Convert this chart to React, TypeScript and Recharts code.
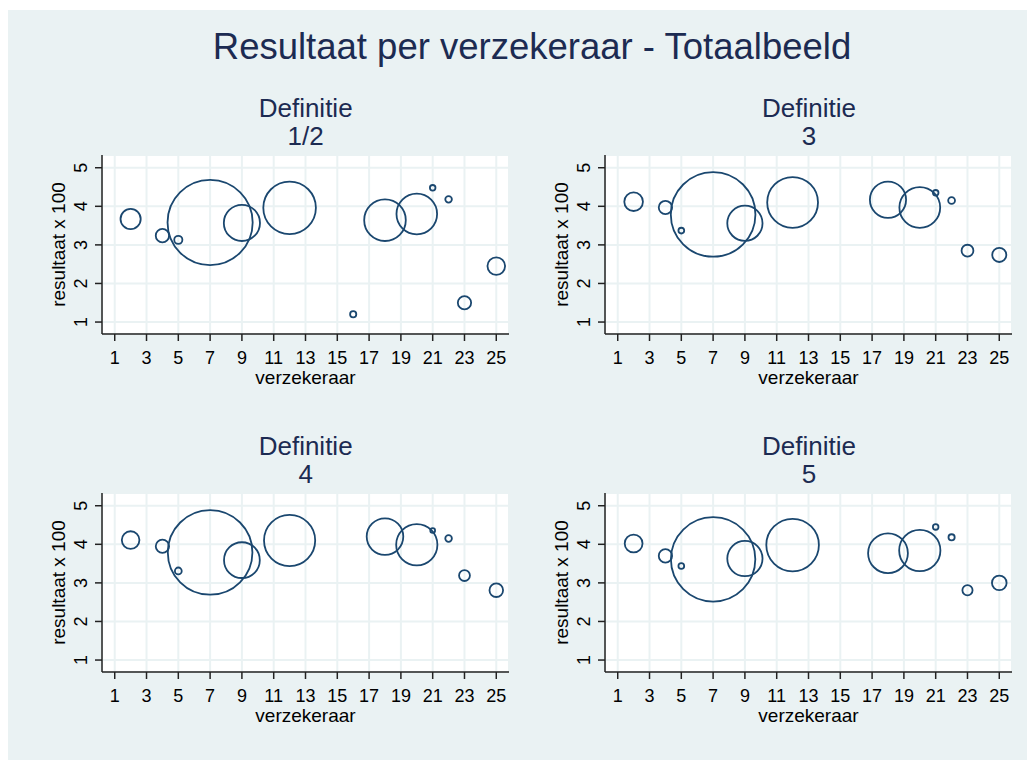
import { ScatterChart, Scatter, XAxis, YAxis, ZAxis, CartesianGrid } from 'recharts'

// verzekeraars (x) per definitie
const verzekeraarsDef12 = [2, 4, 5, 7, 9, 12, 16, 18, 20, 21, 22, 23, 25]
const verzekeraars = [2, 4, 5, 7, 9, 12, 18, 20, 21, 22, 23, 25]

// resultaat x 100 (y)
const resultaatDef12 = [3.67, 3.24, 3.13, 3.58, 3.57, 3.96, 1.2, 3.64, 3.8, 4.48, 4.18, 1.5, 2.45]
const resultaatDef3 = [4.12, 3.97, 3.37, 3.79, 3.56, 4.1, 4.17, 3.97, 4.35, 4.15, 2.85, 2.74]
const resultaatDef4 = [4.11, 3.95, 3.31, 3.79, 3.59, 4.1, 4.2, 3.99, 4.36, 4.15, 3.19, 2.81]
const resultaatDef5 = [4.02, 3.7, 3.44, 3.61, 3.63, 3.98, 3.77, 3.84, 4.45, 4.18, 2.81, 3.0]

// gewicht (bubble area)
const gewichtDef12 = [5.5, 2.4, 0.9, 98, 17.7, 37.4, 0.52, 23.4, 22.3, 0.42, 0.59, 2.4, 4.2]
const gewichtDef3 = [4.7, 2.4, 0.45, 96.8, 16.8, 34.9, 17.7, 22.5, 0.42, 0.63, 1.9, 2.7]
const gewichtDef4 = [4.2, 2.4, 0.63, 96.8, 17.3, 35.4, 18.1, 23, 0.31, 0.59, 1.6, 2.5]
const gewichtDef5 = [4.3, 2.4, 0.45, 96.3, 16.8, 37.4, 21.4, 23, 0.42, 0.52, 1.4, 2.9]

const xTicks = [1, 3, 5, 7, 9, 11, 13, 15, 17, 19, 21, 23, 25]
const yTicks = [1, 2, 3, 4, 5]

const NAVY = '#1a476f'
const TITLE = '#1c2b52'
const BG = '#eaf2f3'
const FONT = '"Liberation Sans", Arial, Helvetica, sans-serif'

const maak = (xs: number[], ys: number[], ws: number[]) =>
  xs.map((x, i) => ({ x, y: ys[i], w: ws[i] }))

const panelen = [
  { titel: '1/2', data: maak(verzekeraarsDef12, resultaatDef12, gewichtDef12), left: 0, top: 83 },
  { titel: '3', data: maak(verzekeraars, resultaatDef3, gewichtDef3), left: 503.4, top: 83 },
  { titel: '4', data: maak(verzekeraars, resultaatDef4, gewichtDef4), left: 0, top: 421.3 },
  { titel: '5', data: maak(verzekeraars, resultaatDef5, gewichtDef5), left: 503.4, top: 421.3 },
]

const YTick = ({ x, y, payload }: any) => (
  <text
    x={x}
    y={y}
    transform={`rotate(-90, ${x}, ${y})`}
    textAnchor="middle"
    fontSize={18}
    fill="#000"
    fontFamily={FONT}
  >
    {payload.value}
  </text>
)

const Bubble = (p: any) => {
  const r = Math.sqrt((p.size ?? 20) / Math.PI)
  return <circle cx={p.cx} cy={p.cy} r={r} fill="none" stroke={NAVY} strokeWidth={1.8} />
}

function Paneel({ titel, data, left, top }: { titel: string; data: { x: number; y: number; w: number }[]; left: number; top: number }) {
  return (
    <div style={{ position: 'absolute', left, top, width: 515, height: 296 }}>
      <div
        style={{
          position: 'absolute', left: 94.3, width: 406.7, top: 1,
          textAlign: 'center', fontSize: 26, lineHeight: '28px', color: TITLE,
        }}
      >
        Definitie<br />{titel}
      </div>
      <div style={{ position: 'absolute', left: 0, top: 52 }}>
        <ScatterChart width={515} height={244} margin={{ top: 10, right: 14, bottom: 0, left: 6 }}>
          <CartesianGrid fill="#fff" stroke={BG} strokeWidth={2} />
          <XAxis
            type="number"
            dataKey="x"
            domain={[0.2, 25.8]}
            ticks={xTicks}
            interval={0}
            tick={{ fontSize: 18, fill: '#000', fontFamily: FONT }}
            tickSize={7}
            tickMargin={10}
            stroke="#222"
            strokeWidth={1.5}
            height={55}
            label={{ value: 'verzekeraar', position: 'insideBottom', offset: 5, fontSize: 19, fill: '#000', fontFamily: FONT }}
          />
          <YAxis
            type="number"
            dataKey="y"
            domain={[0.69, 5.33]}
            ticks={yTicks}
            interval={0}
            tick={<YTick />}
            tickSize={7}
            tickMargin={8}
            stroke="#222"
            strokeWidth={1.5}
            width={88}
            label={{ value: 'resultaat x 100', angle: -90, position: 'center', fontSize: 19, fill: '#000', fontFamily: FONT }}
          />
          <ZAxis type="number" dataKey="w" domain={[0, 100]} range={[0, 5809]} />
          <Scatter data={data} shape={<Bubble />} isAnimationActive={false} />
        </ScatterChart>
      </div>
    </div>
  )
}

export default function App() {
  return (
    <div
      style={{
        position: 'relative', width: 1027, height: 750, marginTop: 2,
        background: BG, fontFamily: FONT, overflow: 'hidden',
      }}
    >
      <div
        style={{
          position: 'absolute', left: 10.5, top: 17, width: 1027, textAlign: 'center',
          fontSize: 36.5, lineHeight: '40px', color: TITLE, whiteSpace: 'nowrap',
        }}
      >
        Resultaat per verzekeraar - Totaalbeeld
      </div>
      {panelen.map((p) => (
        <Paneel key={p.titel} {...p} />
      ))}
    </div>
  )
}
